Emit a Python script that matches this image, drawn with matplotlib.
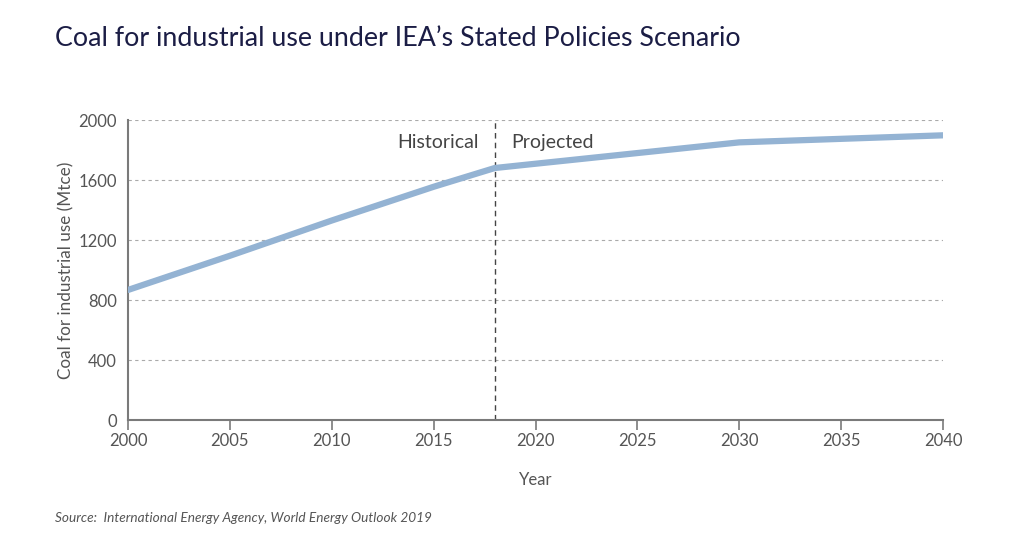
"""Coal for industrial use under IEA's Stated Policies Scenario."""

import matplotlib
matplotlib.use("Agg")
import matplotlib.pyplot as plt

years = [2000, 2005, 2010, 2015, 2018, 2030, 2040]
coal_mtce = [867, 1095, 1330, 1555, 1680, 1851, 1898]
split_year = 2018
x_ticks = [2000, 2005, 2010, 2015, 2020, 2025, 2030, 2035, 2040]
y_ticks = [0, 400, 800, 1200, 1600, 2000]

INK = "#1b1d45"
GREY = "#555555"
AXIS = "#7a7a7a"
LINE = "#94b3d3"

plt.rcParams["font.family"] = ["Lato", "DejaVu Sans"]

fig = plt.figure(figsize=(10.24, 5.36), dpi=100)
fig.patch.set_facecolor("white")
ax = fig.add_axes([0.125, 0.2164, 0.796, 0.5597])

ax.plot(years, coal_mtce, color=LINE, linewidth=4.5, solid_capstyle="round", zorder=3)
ax.axvline(split_year, color="#444444", linewidth=1.0, linestyle=(0, (4, 3)), zorder=2)

ax.text(split_year - 0.8, 1853, "Historical", ha="right", va="center", fontsize=14, color="#444444")
ax.text(split_year + 0.8, 1853, "Projected", ha="left", va="center", fontsize=14, color="#444444")

ax.set_xlim(2000, 2040)
ax.set_ylim(0, 2000)
ax.set_xticks(x_ticks)
ax.set_yticks(y_ticks)
ax.tick_params(axis="x", length=7, width=1.2, color=AXIS, labelsize=12, labelcolor=GREY, pad=2)
ax.tick_params(axis="y", length=0, labelsize=12, labelcolor=GREY, pad=8)

ax.grid(axis="y", color="#aaaaaa", linewidth=0.8, linestyle=(0, (3, 3)))
ax.set_axisbelow(True)
for side in ("top", "right"):
    ax.spines[side].set_visible(False)
for side in ("left", "bottom"):
    ax.spines[side].set_color(AXIS)
    ax.spines[side].set_linewidth(1.5)

ax.set_xlabel("Year", fontsize=12, color=GREY, labelpad=17)
ax.set_ylabel("Coal for industrial use (Mtce)", fontsize=12.3, color=GREY, labelpad=3)

fig.text(55 / 1024, 1 - 38 / 536, "Coal for industrial use under IEA\u2019s Stated Policies Scenario",
         fontsize=19.3, color=INK, ha="left", va="center")
fig.text(55 / 1024, 1 - 518 / 536, "Source:  International Energy Agency, World Energy Outlook 2019",
         fontsize=9.8, color=GREY, style="italic", ha="left", va="center")

fig.savefig("out.png", dpi=100)
